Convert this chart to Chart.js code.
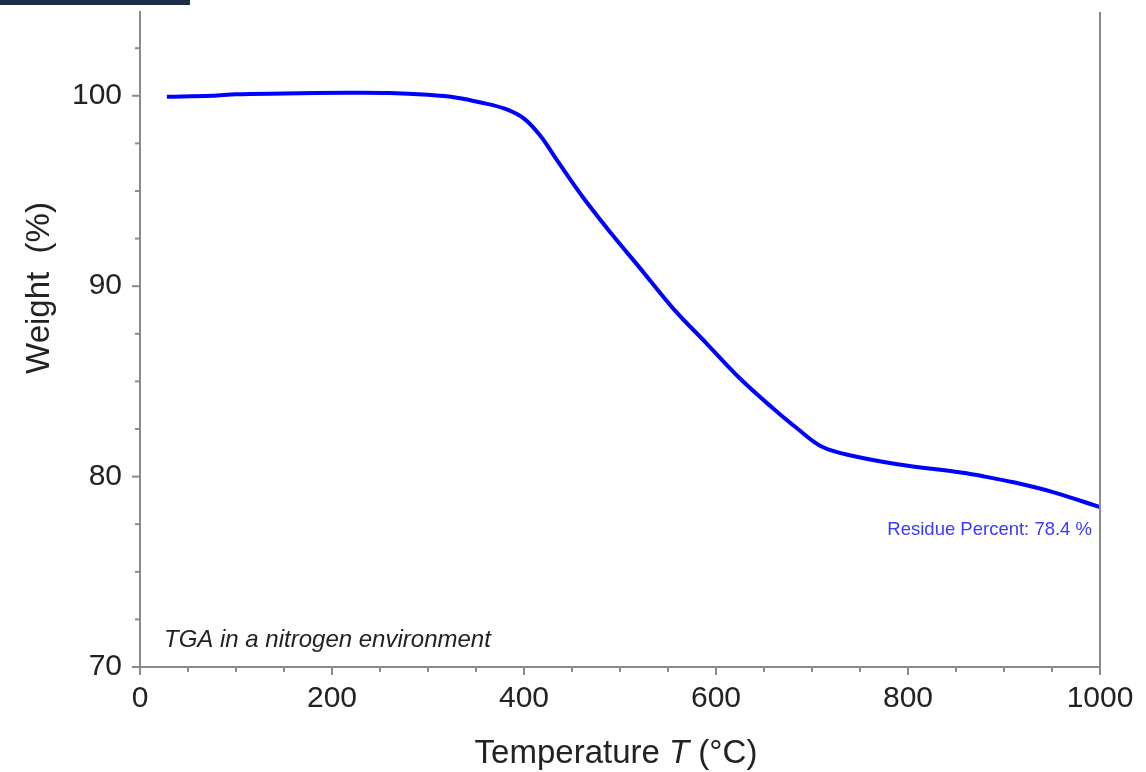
<!DOCTYPE html>
<html>
<head>
<meta charset="utf-8">
<script src="https://cdn.jsdelivr.net/npm/chart.js@4.4.1/dist/chart.umd.min.js"></script>
<style>
  html, body { margin: 0; padding: 0; background: #fff; }
  #wrap { position: relative; width: 1146px; height: 772px; }
  #bar { position: absolute; left: 0; top: 0; width: 190px; height: 5px; background: #1f2d4a; }
  canvas { display: block; }
</style>
</head>
<body>
<div id="wrap">
  <canvas id="c" width="1146" height="772"></canvas>
  <div id="bar"></div>
</div>
<script>
// ---- data ----
const temperature = [28, 75, 100, 150, 215, 260, 300, 330, 355, 380, 400, 417, 434, 461, 492, 520, 555, 591, 625, 659, 684, 711, 743, 789, 857, 880, 910, 950, 1000];
const weight      = [99.95, 100.0, 100.08, 100.12, 100.16, 100.15, 100.05, 99.9, 99.65, 99.32, 98.8, 97.9, 96.65, 94.7, 92.7, 91.0, 88.85, 86.95, 85.15, 83.6, 82.55, 81.55, 81.08, 80.65, 80.2, 80.0, 79.7, 79.2, 78.4];
const xTicks = [0, 200, 400, 600, 800, 1000];
const yTicks = [70, 80, 90, 100];
const xTitle = ["Temperature ", "T", " (°C)"];
const yTitle = "Weight  (%)";
const noteText = "TGA in a nitrogen environment";
const residueText = "Residue Percent: 78.4 %";

const AXIS = '#8a8a8a';
const TXT = '#222222';
const FONT = '"Liberation Sans", Arial, sans-serif';

const points = temperature.map((t, i) => ({ x: t, y: weight[i] }));

const decor = {
  id: 'decor',
  afterDraw(chart) {
    const { ctx, chartArea: a, scales: { x, y } } = chart;
    ctx.save();
    ctx.strokeStyle = AXIS;
    ctx.lineWidth = 2;
    // right frame line at x = 1000
    const xr = x.getPixelForValue(1000);
    ctx.beginPath();
    ctx.moveTo(xr, a.top);
    ctx.lineTo(xr, a.bottom);
    ctx.stroke();
    // y ticks (major 10, minor 2.5)
    for (let v = 70; v <= 104; v += 2.5) {
      const py = y.getPixelForValue(v);
      const len = (v % 10 === 0) ? 8 : 5;
      ctx.beginPath();
      ctx.moveTo(a.left - len, py);
      ctx.lineTo(a.left, py);
      ctx.stroke();
    }
    // x ticks (major 200, minor 50)
    for (let v = 0; v <= 1000; v += 50) {
      const px = x.getPixelForValue(v);
      const len = (v % 200 === 0) ? 8 : 5;
      ctx.beginPath();
      ctx.moveTo(px, a.bottom);
      ctx.lineTo(px, a.bottom + len);
      ctx.stroke();
    }
    // x title with italic T
    ctx.fillStyle = TXT;
    ctx.textBaseline = 'alphabetic';
    const f1 = '33px ' + FONT, f2 = 'italic 33px ' + FONT;
    ctx.font = f1; const w0 = ctx.measureText(xTitle[0]).width;
    ctx.font = f2; const w1 = ctx.measureText(xTitle[1]).width;
    ctx.font = f1; const w2 = ctx.measureText(xTitle[2]).width;
    const total = w0 + w1 + w2;
    let sx = 616 - total / 2;
    const by = 763;
    ctx.textAlign = 'left';
    ctx.font = f1; ctx.fillText(xTitle[0], sx, by); sx += w0;
    ctx.font = f2; ctx.fillText(xTitle[1], sx, by); sx += w1;
    ctx.font = f1; ctx.fillText(xTitle[2], sx, by);
    // y title
    ctx.save();
    ctx.translate(40, 288);
    ctx.rotate(-Math.PI / 2);
    ctx.textAlign = 'center';
    ctx.textBaseline = 'middle';
    ctx.font = '33px ' + FONT;
    ctx.fillText(yTitle, 0, 0);
    ctx.restore();
    // note
    ctx.font = 'italic 24px ' + FONT;
    ctx.textAlign = 'left';
    ctx.textBaseline = 'alphabetic';
    ctx.fillText(noteText, 164, 647);
    // residue
    ctx.font = '18.5px ' + FONT;
    ctx.fillStyle = '#3a3aff';
    ctx.textAlign = 'right';
    ctx.fillText(residueText, 1092, 535);
    ctx.restore();
  }
};

new Chart(document.getElementById('c'), {
  type: 'scatter',
  data: {
    datasets: [{
      data: points,
      showLine: true,
      borderColor: '#0000ff',
      borderWidth: 4,
      pointRadius: 0,
      tension: 0.35,
      fill: false
    }]
  },
  options: {
    responsive: false,
    animation: false,
    layout: { padding: { left: 0, right: 46, top: 12, bottom: 0 } },
    plugins: { legend: { display: false }, tooltip: { enabled: false } },
    scales: {
      x: {
        type: 'linear', min: 0, max: 1000,
        afterFit: s => { s.height = 105; s.paddingLeft = 0; s.paddingRight = 0; },
        afterBuildTicks: s => { s.ticks = xTicks.map(v => ({ value: v })); },
        ticks: { color: TXT, font: { family: FONT, size: 30 }, padding: 14, maxRotation: 0, callback: v => String(v) },
        grid: { display: true, drawOnChartArea: false, drawTicks: false },
        border: { color: AXIS, width: 2 }
      },
      y: {
        type: 'linear', min: 70, max: 104.4,
        afterFit: s => { s.width = 140; s.paddingTop = 0; s.paddingBottom = 0; },
        afterBuildTicks: s => { s.ticks = yTicks.map(v => ({ value: v })); },
        ticks: { color: TXT, font: { family: FONT, size: 30 }, padding: 18, callback: v => String(v) },
        grid: { display: true, drawOnChartArea: false, drawTicks: false },
        border: { color: AXIS, width: 2 }
      }
    }
  },
  plugins: [decor]
});
</script>
</body>
</html>
